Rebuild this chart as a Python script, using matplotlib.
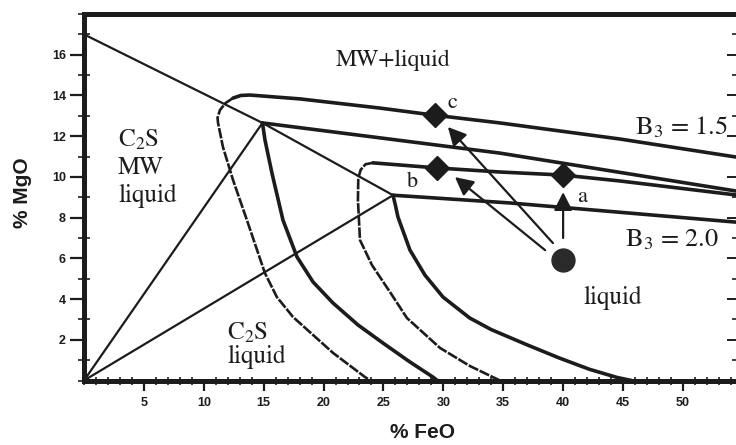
import matplotlib
matplotlib.use('Agg')
import matplotlib.pyplot as plt
import matplotlib.ticker as ticker

plt.rcParams['mathtext.fontset'] = 'stix'

INK = '#1c1c1c'
SERIF = 'STIXGeneral'
SANS = 'Liberation Sans'

# MW saturation line, from the MgO axis through both invariant points
mw_fe = [0.0, 14.9, 25.8]
mw_mg = [17.0, 12.65, 9.1]

# tie lines from the C2S corner to the invariant points
tie15_fe = [0.0, 14.9]
tie15_mg = [0.0, 12.65]
tie20_fe = [0.0, 25.8]
tie20_mg = [0.0, 9.1]

# B3 = 1.5 boundaries
b15_mw_fe = [14.9, 34.7, 54.6]
b15_mw_mg = [12.65, 11.17, 9.29]
b15_c2s_fe = [14.9, 15.11, 15.69, 16.61, 17.78, 19.12, 20.78, 22.87, 24.96,
              27.21, 29.13, 29.5]
b15_c2s_mg = [12.65, 11.81, 10.19, 7.88, 6.07, 4.84, 3.81, 2.73, 1.84,
              0.91, 0.17, 0.0]
b15_liq_fe = [54.6, 44.74, 34.72, 29.13, 24.7, 18.03, 13.86, 13.1, 12.44]
b15_liq_mg = [10.96, 11.86, 12.65, 13.04, 13.38, 13.83, 14.02, 14.0, 13.87]
b15_sat_fe = [12.44, 11.8, 11.35, 11.15, 11.19, 11.6, 12.44, 13.6, 15.1,
              16.1, 17.45, 20.8, 23.46, 23.9]
b15_sat_mg = [13.87, 13.62, 13.28, 12.9, 12.65, 11.47, 9.85, 7.88, 5.28,
              4.1, 3.12, 1.35, 0.17, 0.0]

# B3 = 2.0 boundaries
b20_mw_fe = [25.8, 35.56, 54.6]
b20_mw_mg = [9.1, 8.72, 7.77]
b20_c2s_fe = [25.8, 26.0, 26.21, 27.21, 28.46, 29.97, 32.2, 34.0, 37.0,
              39.7, 42.2, 44.5, 45.7]
b20_c2s_mg = [9.1, 8.6, 8.03, 6.41, 5.18, 4.1, 3.07, 2.5, 1.75,
              1.1, 0.55, 0.15, 0.0]
b20_liq_fe = [54.6, 44.74, 39.98, 34.72, 29.47, 24.12]
b20_liq_mg = [9.1, 9.8, 10.09, 10.24, 10.44, 10.69]
b20_sat_fe = [24.12, 23.5, 23.1, 22.9, 22.87, 23.04, 24.04, 25.54, 26.96,
              29.72, 32.22, 34.3, 34.72]
b20_sat_mg = [10.69, 10.62, 10.35, 9.95, 8.87, 6.9, 5.67, 4.35, 3.07,
              1.6, 0.71, 0.12, 0.0]

# starting slag and the three end compositions
start_fe, start_mg = 40.0, 5.9
end_names = ['a', 'b', 'c']
end_fe = [40.0, 29.5, 29.3]
end_mg = [10.09, 10.44, 13.03]
arrow_tail = [(40.0, 7.0), (38.5, 6.4), (39.15, 6.75)]
arrow_head = [(40.0, 9.25), (30.97, 9.99), (30.38, 12.45)]
name_pos = [(41.57, 9.01), (27.46, 9.75), (30.72, 13.63)]

x_ticks = [5, 10, 15, 20, 25, 30, 35, 40, 45, 50]
y_ticks = [2, 4, 6, 8, 10, 12, 14, 16]

fig = plt.figure(figsize=(7.36, 4.45), dpi=100)
ax = fig.add_axes([84 / 736, 64.5 / 445, 654 / 736, 366.5 / 445])
ax.set_xlim(0, 54.6)
ax.set_ylim(0, 18)

thin = dict(color=INK, lw=1.6, solid_capstyle='round')
thick = dict(color=INK, lw=2.6, solid_capstyle='round', solid_joinstyle='round')
dashed = dict(color=INK, lw=1.9, linestyle=(0, (4, 0.6)))

ax.plot(mw_fe, mw_mg, **thin)
ax.plot(tie15_fe, tie15_mg, **thin)
ax.plot(tie20_fe, tie20_mg, **thin)

ax.plot(b15_mw_fe, b15_mw_mg, **thick)
ax.plot(b15_c2s_fe, b15_c2s_mg, **thick)
ax.plot(b15_liq_fe, b15_liq_mg, **thick)
ax.plot(b15_sat_fe, b15_sat_mg, **dashed)

ax.plot(b20_mw_fe, b20_mw_mg, **thick)
ax.plot(b20_c2s_fe, b20_c2s_mg, **thick)
ax.plot(b20_liq_fe, b20_liq_mg, **thick)
ax.plot(b20_sat_fe, b20_sat_mg, **dashed)

# composition paths
for tail, head in zip(arrow_tail, arrow_head):
    ax.annotate('', xy=head, xytext=tail,
                arrowprops=dict(arrowstyle='-|>,head_length=0.55,head_width=0.28',
                                mutation_scale=20, color=INK, lw=1.6,
                                shrinkA=0, shrinkB=0))
ax.plot(end_fe, end_mg, linestyle='none', marker='D', markersize=12.5,
        color=INK, zorder=5)
ax.plot([start_fe], [start_mg], linestyle='none', marker='o',
        markersize=16.5, color='#2a2a2a', zorder=5)
for name, (x, y) in zip(end_names, name_pos):
    ax.text(x, y, name, family=SERIF, fontsize=16, color=INK,
            ha='center', va='center')

# phase field labels
ax.text(25.8, 15.74, 'MW+liquid', family=SERIF, fontsize=17, color=INK,
        ha='center', va='center')
ax.text(2.84, 10.44, 'C$_2$S\nMW\nliquid', family=SERIF, fontsize=18,
        color=INK, ha='left', va='center', linespacing=1.2)
ax.text(11.94, 1.74, 'C$_2$S\nliquid', family=SERIF, fontsize=18,
        color=INK, ha='left', va='center', linespacing=1.0)
ax.text(44.16, 4.05, 'liquid', family=SERIF, fontsize=18, color=INK,
        ha='center', va='center')
ax.text(49.85, 12.4, 'B$_3$ = 1.5', family=SERIF, fontsize=19, color=INK,
        ha='center', va='center')
ax.text(49.08, 6.9, 'B$_3$ = 2.0', family=SERIF, fontsize=19, color=INK,
        ha='center', va='center')

# axes frame and ticks
for side in ['left', 'bottom', 'top', 'right']:
    ax.spines[side].set_linewidth(3.6)
    ax.spines[side].set_color(INK)

ax.xaxis.set_major_locator(ticker.FixedLocator(x_ticks))
ax.xaxis.set_minor_locator(ticker.MultipleLocator(1))
ax.yaxis.set_major_locator(ticker.FixedLocator(y_ticks))
ax.yaxis.set_minor_locator(ticker.MultipleLocator(1))
ax.tick_params(axis='x', which='major', direction='out', length=7,
               width=1.6, color=INK, pad=5)
ax.tick_params(axis='x', which='minor', direction='inout', length=6,
               width=1.2, color=INK)
ax.tick_params(axis='y', which='major', direction='out', length=10,
               width=1.6, color=INK, pad=3)
ax.tick_params(axis='y', which='minor', direction='inout', length=8,
               width=1.2, color=INK)
for lab in ax.get_xticklabels() + ax.get_yticklabels():
    lab.set_family(SANS)
    lab.set_fontweight('bold')
    lab.set_fontsize(9)
    lab.set_color(INK)

# inward ticks on the right-hand frame
rax = ax.twinx()
rax.set_ylim(ax.get_ylim())
rax.yaxis.set_major_locator(ticker.FixedLocator(y_ticks))
rax.yaxis.set_minor_locator(ticker.MultipleLocator(1))
rax.tick_params(axis='y', which='major', direction='in', length=8,
                width=1.4, color=INK, labelright=False)
rax.tick_params(axis='y', which='minor', direction='in', length=4.5,
                width=1.2, color=INK)
for side in ['left', 'bottom', 'top', 'right']:
    rax.spines[side].set_visible(False)

fig.text(422 / 736, 1 - 433 / 445, '% FeO', family=SANS, fontweight='bold',
         fontsize=15, color=INK, ha='center', va='center')
fig.text(22 / 736, 1 - 193 / 445, '% MgO', family=SANS, fontweight='bold',
         fontsize=15, color=INK, ha='center', va='center', rotation=90)

fig.savefig('out.png', dpi=100, facecolor='white')
